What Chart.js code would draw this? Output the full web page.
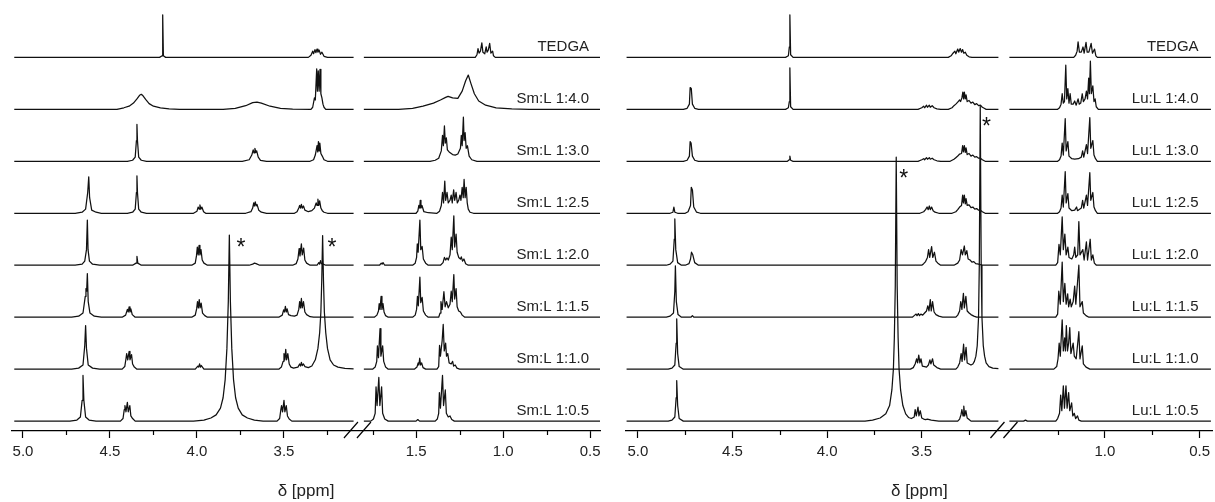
<!DOCTYPE html>
<html><head><meta charset="utf-8">
<script src="https://cdn.jsdelivr.net/npm/chart.js@4.4.1/dist/chart.umd.min.js"></script>
<style>
html,body{margin:0;padding:0;background:#fff;overflow:hidden;}
#p1{position:absolute;left:0;top:0;width:610px;height:502px;}
#p2{position:absolute;left:610px;top:0;width:605px;height:502px;}
</style></head><body>
<div id="p1"><canvas id="c1"></canvas></div>
<div id="p2"><canvas id="c2"></canvas></div>
<script>
// ---------- tick labels ----------
const smMajorTicks = [5.0, 4.5, 4.0, 3.5, 1.5, 1.0, 0.5];
const smMinorTicks = [4.75, 4.25, 3.75, 3.25, 1.75, 1.25, 0.75];
const luMajorTicks = [5.0, 4.5, 4.0, 3.5, 1.0, 0.5];
const luMinorTicks = [4.75, 4.25, 3.75, 3.25, 1.25, 0.75];
const axisTitle = 'δ [ppm]';

// ---------- spectrum labels (bottom to top) ----------
const smLabels = ['Sm:L 1:0.5','Sm:L 1:1.0','Sm:L 1:1.5','Sm:L 1:2.0','Sm:L 1:2.5','Sm:L 1:3.0','Sm:L 1:4.0','TEDGA'];
const luLabels = ['Lu:L 1:0.5','Lu:L 1:1.0','Lu:L 1:1.5','Lu:L 1:2.0','Lu:L 1:2.5','Lu:L 1:3.0','Lu:L 1:4.0','TEDGA'];

// asterisks: [delta, height above bottom baseline (spectrum spacing units)]
const smStars = [[3.747, 3.44], [3.224, 3.44]];
const luStars = [[3.158, 5.78], [3.595, 4.77]];

// ---------- Sm spectra: [delta ppm, intensity] ----------
const smTEDGA = [[5.05,0],[4.215,0],[4.2,0.03],[4.197,0.82],[4.193,0.03],[4.18,0],[3.36,0],[3.345,0.04],[3.335,0.12],[3.33,0.07],[3.322,0.15],[3.317,0.09],[3.31,0.16],[3.305,0.1],[3.298,0.14],[3.29,0.06],[3.282,0.1],[3.27,0.02],[3.25,0],[3.10,0],
 [1.80,0],[1.16,0],[1.15,0.05],[1.144,0.17],[1.138,0.08],[1.13,0.12],[1.122,0.28],[1.116,0.1],[1.105,0.07],[1.097,0.2],[1.092,0.1],[1.085,0.14],[1.077,0.27],[1.07,0.08],[1.06,0.12],[1.055,0.03],[1.045,0],[0.44,0]];
const sm40 = [[5.05,0],[4.46,0],[4.42,0.03],[4.39,0.06],[4.365,0.12],[4.345,0.2],[4.33,0.27],[4.32,0.29],[4.31,0.26],[4.295,0.19],[4.275,0.11],[4.25,0.06],[4.21,0.03],[4.16,0.01],[4.10,0],[3.85,0],[3.78,0.02],[3.72,0.07],[3.68,0.13],[3.655,0.14],[3.63,0.12],[3.58,0.06],[3.52,0.02],[3.45,0.005],[3.345,0],[3.335,0.04],[3.325,0.22],[3.32,0.18],[3.312,0.78],[3.308,0.35],[3.303,0.74],[3.298,0.35],[3.293,0.77],[3.288,0.3],[3.282,0.22],[3.276,0.1],[3.27,0.04],[3.26,0],[3.10,0],
 [1.80,0],[1.60,0],[1.52,0.02],[1.46,0.06],[1.40,0.12],[1.36,0.18],[1.33,0.23],[1.316,0.25],[1.29,0.22],[1.26,0.21],[1.235,0.35],[1.215,0.55],[1.20,0.66],[1.185,0.5],[1.165,0.3],[1.14,0.16],[1.10,0.08],[1.04,0.03],[0.95,0.01],[0.85,0],[0.44,0]];
const sm30 = [[5.05,0],[4.40,0],[4.37,0.02],[4.355,0.08],[4.348,0.4],[4.345,0.71],[4.342,0.4],[4.335,0.08],[4.32,0.02],[4.29,0],[3.74,0],[3.70,0.03],[3.685,0.12],[3.677,0.22],[3.672,0.16],[3.667,0.25],[3.662,0.17],[3.657,0.2],[3.648,0.08],[3.635,0.02],[3.60,0],[3.35,0],[3.33,0.03],[3.32,0.12],[3.31,0.3],[3.306,0.18],[3.302,0.38],[3.298,0.2],[3.294,0.35],[3.288,0.15],[3.28,0.1],[3.27,0.03],[3.25,0],[3.10,0],
 [1.80,0],[1.42,0],[1.39,0.02],[1.37,0.06],[1.355,0.2],[1.348,0.5],[1.343,0.3],[1.337,0.68],[1.332,0.35],[1.326,0.45],[1.32,0.22],[1.31,0.18],[1.29,0.13],[1.275,0.12],[1.26,0.14],[1.245,0.25],[1.24,0.5],[1.235,0.3],[1.228,0.85],[1.224,0.4],[1.218,0.55],[1.212,0.25],[1.205,0.3],[1.195,0.1],[1.18,0.03],[1.15,0],[0.44,0]];
const sm25 = [[5.05,0],[4.70,0],[4.66,0.02],[4.64,0.08],[4.628,0.4],[4.622,0.7],[4.617,0.3],[4.605,0.06],[4.58,0.02],[4.55,0],[4.40,0],[4.37,0.02],[4.355,0.08],[4.348,0.4],[4.345,0.72],[4.342,0.4],[4.335,0.08],[4.32,0.02],[4.29,0],[4.02,0],[4.0,0.04],[3.993,0.12],[3.988,0.08],[3.983,0.16],[3.978,0.08],[3.972,0.12],[3.962,0.03],[3.95,0],[3.72,0],[3.69,0.03],[3.68,0.1],[3.674,0.2],[3.67,0.14],[3.665,0.22],[3.66,0.14],[3.655,0.17],[3.645,0.06],[3.63,0.02],[3.60,0],[3.44,0],[3.425,0.03],[3.415,0.1],[3.41,0.15],[3.405,0.1],[3.40,0.17],[3.395,0.1],[3.388,0.14],[3.38,0.06],[3.36,0.03],[3.34,0.05],[3.325,0.1],[3.315,0.2],[3.31,0.15],[3.305,0.27],[3.30,0.15],[3.295,0.24],[3.288,0.1],[3.28,0.05],[3.27,0.02],[3.25,0],[3.10,0],
 [1.80,0],[1.50,0],[1.49,0.04],[1.484,0.15],[1.479,0.1],[1.476,0.25],[1.472,0.1],[1.466,0.15],[1.455,0.03],[1.43,0.01],[1.38,0],[1.365,0.04],[1.355,0.15],[1.348,0.4],[1.342,0.2],[1.335,0.62],[1.33,0.25],[1.322,0.4],[1.315,0.2],[1.305,0.25],[1.298,0.35],[1.292,0.2],[1.284,0.45],[1.278,0.25],[1.27,0.4],[1.263,0.2],[1.255,0.25],[1.248,0.35],[1.242,0.25],[1.235,0.5],[1.229,0.3],[1.224,0.65],[1.218,0.3],[1.212,0.5],[1.206,0.2],[1.2,0.08],[1.19,0.02],[1.17,0],[0.44,0]];
const sm20 = [[5.05,0],[4.70,0],[4.66,0.02],[4.645,0.08],[4.635,0.3],[4.63,0.87],[4.626,0.3],[4.618,0.08],[4.60,0.02],[4.56,0],[4.37,0],[4.35,0.04],[4.345,0.17],[4.34,0.04],[4.32,0],[4.03,0],[4.01,0.04],[4.003,0.18],[3.998,0.35],[3.993,0.2],[3.988,0.38],[3.983,0.2],[3.977,0.3],[3.97,0.1],[3.96,0.04],[3.94,0],[3.70,0],[3.68,0.02],[3.67,0.04],[3.66,0.03],[3.64,0],[3.45,0],[3.43,0.03],[3.42,0.12],[3.413,0.32],[3.408,0.18],[3.40,0.41],[3.395,0.2],[3.387,0.33],[3.38,0.1],[3.37,0.04],[3.35,0],[3.31,0],[3.30,0.05],[3.295,0.02],[3.29,0.09],[3.285,0.03],[3.275,0.02],[3.26,0],[3.10,0],
 [1.80,0],[1.71,0],[1.70,0.04],[1.695,0.02],[1.69,0.05],[1.68,0],[1.52,0],[1.505,0.04],[1.497,0.15],[1.493,0.41],[1.488,0.25],[1.478,0.87],[1.473,0.3],[1.465,0.36],[1.458,0.12],[1.445,0.04],[1.43,0],[1.36,0],[1.345,0.05],[1.337,0.15],[1.33,0.1],[1.322,0.14],[1.315,0.1],[1.305,0.2],[1.298,0.54],[1.292,0.3],[1.283,0.95],[1.278,0.35],[1.27,0.6],[1.264,0.25],[1.255,0.15],[1.245,0.12],[1.24,0.16],[1.233,0.08],[1.225,0.12],[1.215,0.03],[1.20,0],[0.44,0]];
const sm15 = [[5.05,0],[4.72,0],[4.68,0.02],[4.655,0.08],[4.642,0.4],[4.638,0.55],[4.634,0.5],[4.63,0.84],[4.625,0.3],[4.615,0.08],[4.59,0.02],[4.55,0],[4.43,0],[4.41,0.04],[4.40,0.15],[4.395,0.1],[4.39,0.2],[4.385,0.1],[4.38,0.16],[4.372,0.05],[4.355,0],[4.03,0],[4.01,0.04],[4.002,0.16],[3.997,0.3],[3.992,0.18],[3.987,0.34],[3.982,0.18],[3.976,0.27],[3.968,0.08],[3.955,0.03],[3.94,0],[3.53,0],[3.51,0.04],[3.502,0.14],[3.497,0.1],[3.492,0.21],[3.487,0.1],[3.482,0.16],[3.474,0.05],[3.46,0.03],[3.44,0.02],[3.425,0.04],[3.415,0.15],[3.41,0.3],[3.405,0.18],[3.40,0.36],[3.395,0.18],[3.388,0.3],[3.38,0.1],[3.37,0.05],[3.35,0.01],[3.33,0],[3.10,0],
 [1.80,0],[1.74,0],[1.725,0.04],[1.716,0.12],[1.712,0.26],[1.707,0.15],[1.701,0.4],[1.696,0.15],[1.69,0.26],[1.684,0.1],[1.675,0.03],[1.66,0],[1.52,0],[1.505,0.04],[1.497,0.15],[1.492,0.4],[1.487,0.22],[1.478,0.77],[1.473,0.28],[1.465,0.38],[1.458,0.12],[1.445,0.04],[1.43,0],[1.37,0],[1.362,0.08],[1.357,0.3],[1.35,0.15],[1.34,0.49],[1.333,0.2],[1.325,0.3],[1.315,0.18],[1.305,0.25],[1.298,0.5],[1.292,0.3],[1.283,0.82],[1.278,0.35],[1.27,0.55],[1.264,0.2],[1.255,0.12],[1.245,0.1],[1.235,0.04],[1.22,0],[0.44,0]];
const sm10 = [[5.05,0],[4.72,0],[4.68,0.02],[4.655,0.08],[4.645,0.45],[4.64,0.84],[4.635,0.4],[4.625,0.08],[4.60,0.02],[4.56,0],[4.43,0],[4.415,0.05],[4.408,0.2],[4.404,0.3],[4.398,0.18],[4.39,0.34],[4.385,0.18],[4.376,0.28],[4.37,0.1],[4.36,0.04],[4.345,0],[4.01,0],[3.995,0.06],[3.99,0.04],[3.985,0.1],[3.98,0.04],[3.975,0.07],[3.96,0],[3.53,0],[3.515,0.04],[3.505,0.15],[3.50,0.3],[3.495,0.18],[3.49,0.38],[3.485,0.18],[3.478,0.3],[3.47,0.1],[3.46,0.04],[3.445,0.02],[3.42,0.04],[3.41,0.1],[3.405,0.06],[3.40,0.13],[3.395,0.07],[3.388,0.1],[3.38,0.05],[3.36,0.03],[3.34,0.06],[3.32,0.18],[3.305,0.4],[3.295,0.7],[3.288,1.1],[3.283,1.7],[3.278,2.57],[3.273,1.7],[3.268,1.1],[3.26,0.7],[3.25,0.4],[3.235,0.18],[3.215,0.08],[3.19,0.04],[3.15,0.015],[3.10,0.005],
 [1.80,0],[1.75,0],[1.735,0.04],[1.726,0.15],[1.722,0.45],[1.716,0.22],[1.707,0.78],[1.702,0.25],[1.692,0.45],[1.686,0.15],[1.675,0.04],[1.66,0],[1.51,0],[1.495,0.04],[1.488,0.12],[1.484,0.08],[1.479,0.21],[1.474,0.08],[1.468,0.12],[1.46,0.03],[1.445,0],[1.38,0],[1.37,0.05],[1.365,0.46],[1.36,0.25],[1.35,0.55],[1.344,0.86],[1.338,0.35],[1.33,0.5],[1.325,0.25],[1.318,0.3],[1.31,0.12],[1.298,0.1],[1.29,0.15],[1.284,0.06],[1.275,0.08],[1.265,0.02],[1.25,0],[0.44,0]];
const sm05 = [[5.05,0],[4.73,0],[4.69,0.02],[4.67,0.08],[4.66,0.4],[4.655,0.88],[4.65,0.4],[4.64,0.08],[4.62,0.02],[4.58,0],[4.44,0],[4.425,0.05],[4.418,0.22],[4.414,0.3],[4.408,0.18],[4.40,0.36],[4.395,0.18],[4.386,0.3],[4.38,0.1],[4.37,0.05],[4.355,0],[4.02,0],[3.96,0.02],[3.92,0.06],[3.89,0.12],[3.865,0.25],[3.85,0.45],[3.838,0.8],[3.828,1.4],[3.82,2.3],[3.814,3.58],[3.808,2.3],[3.80,1.4],[3.79,0.8],[3.778,0.45],[3.763,0.25],[3.74,0.12],[3.71,0.06],[3.67,0.02],[3.62,0],[3.54,0],[3.525,0.05],[3.518,0.22],[3.514,0.3],[3.508,0.18],[3.50,0.4],[3.495,0.18],[3.487,0.3],[3.48,0.1],[3.47,0.04],[3.455,0],[3.10,0],
 [1.80,0],[1.76,0],[1.745,0.04],[1.735,0.15],[1.73,0.66],[1.724,0.3],[1.714,0.84],[1.708,0.3],[1.698,0.66],[1.692,0.15],[1.68,0.04],[1.66,0],[1.50,0],[1.49,0.03],[1.48,0],[1.39,0],[1.378,0.04],[1.37,0.15],[1.366,0.55],[1.36,0.25],[1.348,0.88],[1.342,0.3],[1.332,0.6],[1.326,0.15],[1.315,0.08],[1.305,0.1],[1.295,0.03],[1.28,0],[0.44,0]];

// ---------- Lu spectra ----------
const luTEDGA = [[5.06,0],[4.22,0],[4.205,0.03],[4.2,0.2],[4.197,0.82],[4.193,0.05],[4.18,0],[3.36,0],[3.345,0.03],[3.335,0.08],[3.325,0.12],[3.32,0.07],[3.31,0.16],[3.305,0.1],[3.297,0.17],[3.29,0.1],[3.284,0.15],[3.278,0.08],[3.27,0.1],[3.262,0.04],[3.25,0.01],[3.235,0],[3.095,0],
 [1.505,0],[1.165,0],[1.155,0.04],[1.147,0.12],[1.142,0.3],[1.135,0.1],[1.125,0.1],[1.116,0.2],[1.11,0.08],[1.10,0.29],[1.094,0.1],[1.085,0.1],[1.073,0.27],[1.066,0.08],[1.055,0.16],[1.048,0.03],[1.04,0],[0.44,0]];
const lu40 = [[5.06,0],[4.76,0],[4.74,0.02],[4.728,0.1],[4.724,0.42],[4.718,0.4],[4.712,0.1],[4.70,0.02],[4.68,0],[4.22,0],[4.205,0.03],[4.2,0.15],[4.197,0.8],[4.193,0.05],[4.18,0],[3.52,0],[3.50,0.03],[3.49,0.06],[3.485,0.03],[3.475,0.08],[3.47,0.04],[3.46,0.08],[3.455,0.04],[3.445,0.07],[3.435,0.03],[3.42,0.01],[3.40,0],[3.36,0],[3.34,0.03],[3.33,0.07],[3.32,0.1],[3.31,0.14],[3.30,0.18],[3.295,0.15],[3.288,0.22],[3.283,0.33],[3.279,0.2],[3.275,0.33],[3.27,0.2],[3.266,0.28],[3.26,0.15],[3.25,0.17],[3.24,0.12],[3.23,0.14],[3.22,0.09],[3.21,0.11],[3.20,0.07],[3.19,0.08],[3.18,0.04],[3.17,0.02],[3.16,0],[3.095,0],
 [1.505,0],[1.25,0],[1.24,0.03],[1.232,0.1],[1.226,0.3],[1.22,0.12],[1.214,0.15],[1.207,0.85],[1.202,0.2],[1.196,0.4],[1.19,0.12],[1.184,0.3],[1.178,0.1],[1.168,0.1],[1.16,0.16],[1.152,0.08],[1.142,0.2],[1.136,0.1],[1.128,0.12],[1.12,0.3],[1.114,0.15],[1.105,0.2],[1.098,0.35],[1.092,0.2],[1.086,0.6],[1.082,0.3],[1.077,0.93],[1.072,0.3],[1.064,0.45],[1.058,0.15],[1.052,0.2],[1.046,0.05],[1.035,0],[0.44,0]];
const lu30 = [[5.06,0],[4.76,0],[4.74,0.02],[4.728,0.1],[4.724,0.38],[4.719,0.35],[4.712,0.1],[4.70,0.02],[4.68,0],[4.21,0],[4.2,0.03],[4.197,0.1],[4.193,0.02],[4.18,0],[3.52,0],[3.50,0.03],[3.49,0.05],[3.485,0.03],[3.475,0.07],[3.47,0.04],[3.46,0.07],[3.455,0.04],[3.445,0.06],[3.435,0.03],[3.42,0.01],[3.40,0],[3.35,0],[3.33,0.04],[3.32,0.07],[3.31,0.1],[3.30,0.14],[3.29,0.15],[3.284,0.3],[3.28,0.18],[3.275,0.3],[3.27,0.17],[3.266,0.26],[3.26,0.13],[3.25,0.15],[3.24,0.1],[3.23,0.12],[3.22,0.08],[3.21,0.09],[3.20,0.06],[3.19,0.06],[3.18,0.03],[3.165,0],[3.095,0],
 [1.505,0],[1.25,0],[1.24,0.03],[1.232,0.1],[1.226,0.35],[1.22,0.12],[1.21,0.82],[1.205,0.2],[1.196,0.38],[1.19,0.1],[1.175,0.05],[1.16,0.04],[1.14,0.05],[1.125,0.08],[1.118,0.2],[1.112,0.08],[1.098,0.32],[1.092,0.15],[1.08,0.84],[1.075,0.25],[1.064,0.4],[1.058,0.12],[1.05,0.05],[1.04,0],[0.44,0]];
const lu25 = [[5.06,0],[4.83,0],[4.815,0.02],[4.81,0.12],[4.805,0.02],[4.79,0],[4.75,0],[4.735,0.03],[4.722,0.15],[4.718,0.5],[4.712,0.45],[4.705,0.12],[4.69,0.02],[4.67,0],[3.51,0],[3.49,0.03],[3.48,0.07],[3.472,0.12],[3.466,0.07],[3.46,0.14],[3.455,0.07],[3.448,0.12],[3.44,0.05],[3.43,0.02],[3.41,0],[3.34,0],[3.32,0.03],[3.31,0.07],[3.30,0.12],[3.29,0.15],[3.284,0.35],[3.28,0.2],[3.275,0.35],[3.27,0.18],[3.266,0.28],[3.26,0.15],[3.25,0.16],[3.24,0.11],[3.23,0.12],[3.22,0.08],[3.21,0.09],[3.20,0.06],[3.19,0.06],[3.18,0.03],[3.165,0],[3.095,0],
 [1.505,0],[1.25,0],[1.24,0.03],[1.232,0.1],[1.226,0.35],[1.22,0.12],[1.21,0.8],[1.205,0.2],[1.196,0.38],[1.19,0.1],[1.175,0.05],[1.16,0.06],[1.15,0.12],[1.145,0.05],[1.125,0.1],[1.118,0.25],[1.112,0.1],[1.098,0.35],[1.092,0.15],[1.08,0.78],[1.075,0.25],[1.064,0.4],[1.058,0.12],[1.05,0.05],[1.04,0],[0.44,0]];
const lu20 = [[5.06,0],[4.85,0],[4.83,0.02],[4.815,0.08],[4.808,0.5],[4.805,0.89],[4.80,0.3],[4.79,0.05],[4.77,0],[4.75,0],[4.73,0.03],[4.722,0.12],[4.717,0.25],[4.71,0.2],[4.70,0.05],[4.68,0],[3.50,0],[3.49,0.03],[3.48,0.07],[3.47,0.15],[3.464,0.3],[3.458,0.15],[3.448,0.36],[3.442,0.15],[3.433,0.25],[3.425,0.08],[3.415,0.04],[3.40,0],[3.33,0],[3.31,0.04],[3.30,0.1],[3.292,0.3],[3.285,0.2],[3.275,0.37],[3.27,0.2],[3.262,0.28],[3.255,0.12],[3.245,0.1],[3.235,0.06],[3.225,0.07],[3.215,0.03],[3.20,0.02],[3.18,0],[3.095,0],
 [1.505,0],[1.26,0],[1.25,0.05],[1.243,0.4],[1.236,0.2],[1.226,0.93],[1.22,0.3],[1.212,0.6],[1.205,0.2],[1.196,0.35],[1.19,0.15],[1.175,0.12],[1.165,0.2],[1.16,0.35],[1.154,0.15],[1.144,0.2],[1.138,0.84],[1.132,0.2],[1.117,0.3],[1.11,0.1],[1.098,0.45],[1.092,0.1],[1.078,0.5],[1.072,0.1],[1.064,0.2],[1.056,0.04],[1.045,0],[0.44,0]];
const lu15 = [[5.06,0],[4.85,0],[4.83,0.02],[4.812,0.08],[4.805,0.5],[4.802,0.99],[4.797,0.3],[4.788,0.05],[4.77,0],[4.72,0],[4.712,0.03],[4.705,0],[3.55,0],[3.54,0.03],[3.53,0.06],[3.525,0.03],[3.518,0.07],[3.512,0.03],[3.505,0.06],[3.495,0.04],[3.485,0.08],[3.475,0.12],[3.468,0.22],[3.462,0.12],[3.455,0.34],[3.45,0.12],[3.443,0.3],[3.435,0.1],[3.425,0.05],[3.41,0.02],[3.39,0],[3.32,0],[3.31,0.04],[3.30,0.12],[3.294,0.3],[3.288,0.15],[3.28,0.46],[3.275,0.18],[3.267,0.4],[3.26,0.12],[3.25,0.08],[3.24,0.05],[3.225,0.02],[3.21,0],[3.095,0],
 [1.505,0],[1.26,0],[1.25,0.06],[1.244,0.5],[1.236,0.25],[1.226,1.06],[1.22,0.3],[1.212,0.65],[1.205,0.25],[1.197,0.45],[1.192,0.2],[1.184,0.35],[1.178,0.2],[1.168,0.3],[1.16,0.6],[1.154,0.25],[1.138,1.0],[1.132,0.2],[1.12,0.3],[1.114,0.08],[1.10,0.03],[1.085,0],[0.44,0]];
const lu10 = [[5.06,0],[4.84,0],[4.82,0.02],[4.805,0.08],[4.798,0.5],[4.795,0.97],[4.79,0.3],[4.782,0.05],[4.76,0],[3.56,0],[3.545,0.03],[3.535,0.1],[3.527,0.2],[3.522,0.12],[3.516,0.27],[3.51,0.12],[3.504,0.2],[3.497,0.06],[3.485,0.05],[3.475,0.04],[3.465,0.08],[3.457,0.18],[3.452,0.1],[3.443,0.2],[3.437,0.08],[3.43,0.06],[3.42,0.03],[3.40,0],[3.32,0],[3.31,0.04],[3.30,0.12],[3.292,0.3],[3.287,0.15],[3.279,0.48],[3.274,0.18],[3.266,0.42],[3.26,0.12],[3.25,0.1],[3.24,0.08],[3.23,0.1],[3.222,0.15],[3.214,0.25],[3.207,0.45],[3.20,1.0],[3.196,2.0],[3.191,5.06],[3.186,2.0],[3.182,1.0],[3.175,0.45],[3.168,0.25],[3.16,0.12],[3.145,0.05],[3.125,0.02],[3.095,0.01],
 [1.505,0],[1.27,0],[1.255,0.05],[1.248,0.2],[1.242,0.5],[1.236,0.25],[1.226,0.95],[1.22,0.35],[1.213,0.6],[1.209,0.35],[1.204,0.84],[1.198,0.35],[1.192,0.5],[1.186,0.8],[1.18,0.3],[1.168,0.5],[1.162,0.25],[1.152,0.2],[1.138,0.72],[1.132,0.2],[1.12,0.45],[1.114,0.1],[1.10,0.04],[1.08,0],[0.44,0]];
const lu05 = [[5.06,0],[4.84,0],[4.82,0.02],[4.805,0.08],[4.798,0.45],[4.795,0.78],[4.79,0.3],[4.782,0.05],[4.76,0],[3.80,0],[3.76,0.02],[3.72,0.06],[3.69,0.14],[3.67,0.3],[3.658,0.6],[3.65,1.0],[3.645,1.6],[3.64,2.6],[3.635,5.08],[3.63,2.6],[3.625,1.6],[3.62,1.0],[3.612,0.6],[3.60,0.3],[3.585,0.14],[3.57,0.07],[3.555,0.05],[3.54,0.08],[3.535,0.22],[3.529,0.1],[3.52,0.27],[3.515,0.1],[3.508,0.2],[3.50,0.06],[3.49,0.04],[3.48,0.03],[3.47,0.04],[3.46,0.03],[3.45,0.02],[3.43,0.01],[3.41,0],[3.31,0],[3.30,0.04],[3.293,0.12],[3.288,0.22],[3.282,0.1],[3.278,0.29],[3.273,0.1],[3.267,0.2],[3.26,0.06],[3.25,0.03],[3.24,0],[3.095,0],
 [1.505,0],[1.43,0],[1.42,0.02],[1.41,0],[1.26,0],[1.25,0.05],[1.24,0.15],[1.234,0.5],[1.228,0.2],[1.22,0.68],[1.214,0.25],[1.206,0.68],[1.20,0.25],[1.192,0.55],[1.186,0.2],[1.176,0.35],[1.17,0.1],[1.162,0.15],[1.155,0.05],[1.145,0.1],[1.138,0.02],[1.125,0],[0.44,0]];

const smSeries = [sm05, sm10, sm15, sm20, sm25, sm30, sm40, smTEDGA];
const luSeries = [lu05, lu10, lu15, lu20, lu25, lu30, lu40, luTEDGA];

// ---------- layout (broken axis mapping) ----------
const FONT = 'Arial, "Liberation Sans", sans-serif';
const panels = [
  {canvas:'c1', series:smSeries, labels:smLabels, stars:smStars, majors:smMajorTicks, minors:smMinorTicks,
   offset:1.241, brk:2.0, breakU:3.075, uMin:1.684, uMax:5.063, padL:12, padR:10},
  {canvas:'c2', series:luSeries, labels:luLabels, stars:luStars, majors:luMajorTicks, minors:luMinorTicks,
   offset:1.532, brk:2.0, breakU:3.063, uMin:1.963, uMax:5.063, padL:16, padR:0}
];
const Y_MIN = -0.190, Y_MAX = 8.104;

function makeChart(p) {
  const toU = d => d < p.brk ? d + p.offset : d;
  const fromU = u => u < p.breakU ? u - p.offset : u;
  const datasets = p.series.map((arr, idx) => {
    const pts = [];
    let prevRight = null;
    arr.forEach(([d, h]) => {
      const right = d < p.brk;
      if (prevRight !== null && right !== prevRight) pts.push({x: p.breakU, y: null});
      pts.push({x: toU(d), y: idx + h});
      prevRight = right;
    });
    return {data: pts, borderColor: '#111', borderWidth: 1.25, pointRadius: 0, tension: 0, spanGaps: false, fill: false};
  });
  const deco = {
    id: 'deco',
    afterDraw(chart) {
      const ctx = chart.ctx, xs = chart.scales.x, ys = chart.scales.y;
      const ay = chart.chartArea.bottom;
      ctx.save();
      ctx.strokeStyle = '#000'; ctx.lineWidth = 1.2;
      // minor ticks
      p.minors.forEach(d => {
        const x = Math.round(xs.getPixelForValue(toU(d))) + 0.5;
        ctx.beginPath(); ctx.moveTo(x, ay); ctx.lineTo(x, ay + 4); ctx.stroke();
      });
      // break marks
      const bx = xs.getPixelForValue(p.breakU);
      [-7, 6].forEach(s => {
        ctx.beginPath(); ctx.moveTo(bx + s - 7, ay + 7); ctx.lineTo(bx + s + 7, ay - 9); ctx.stroke();
      });
      // spectrum labels
      ctx.fillStyle = '#222';
      ctx.font = '15px ' + FONT;
      ctx.textAlign = 'right'; ctx.textBaseline = 'middle';
      const lx = xs.getPixelForValue(toU(0.5)) - 1;
      p.labels.forEach((t, i) => ctx.fillText(t, lx, ys.getPixelForValue(i + 0.2)));
      // asterisks (glyph centred on the given point)
      const fs = 23;
      ctx.font = fs + 'px ' + FONT; ctx.textAlign = 'center'; ctx.textBaseline = 'alphabetic';
      ctx.fillStyle = '#111';
      p.stars.forEach(([d, v]) => ctx.fillText('*', xs.getPixelForValue(toU(d)), ys.getPixelForValue(v) + 0.57 * fs));
      ctx.restore();
    }
  };
  new Chart(document.getElementById(p.canvas), {
    type: 'line',
    data: {datasets},
    plugins: [deco],
    options: {
      responsive: true, maintainAspectRatio: false, animation: false, devicePixelRatio: 1,
      layout: {padding: {left: p.padL, right: p.padR, top: 0, bottom: 0}},
      plugins: {legend: {display: false}, tooltip: {enabled: false}},
      elements: {line: {borderJoinStyle: 'round'}},
      scales: {
        x: {
          type: 'linear', reverse: true, min: p.uMin, max: p.uMax, position: 'bottom',
          afterBuildTicks: s => { s.ticks = p.majors.map(d => ({value: toU(d)})); },
          grid: {display: true, drawOnChartArea: false, drawTicks: true, tickLength: 7, tickColor: '#000', tickWidth: 1.2},
          border: {display: true, color: '#000', width: 1.2},
          ticks: {padding: 5, color: '#222', font: {size: 15, family: FONT}, maxRotation: 0, autoSkip: false,
                  callback: v => fromU(v).toFixed(1)},
          title: {display: true, text: axisTitle, color: '#222', font: {size: 17, family: FONT}, padding: {top: 15.6, bottom: 0}}
        },
        y: {type: 'linear', display: false, min: Y_MIN, max: Y_MAX}
      }
    }
  });
}
panels.forEach(makeChart);
</script>
</body></html>
